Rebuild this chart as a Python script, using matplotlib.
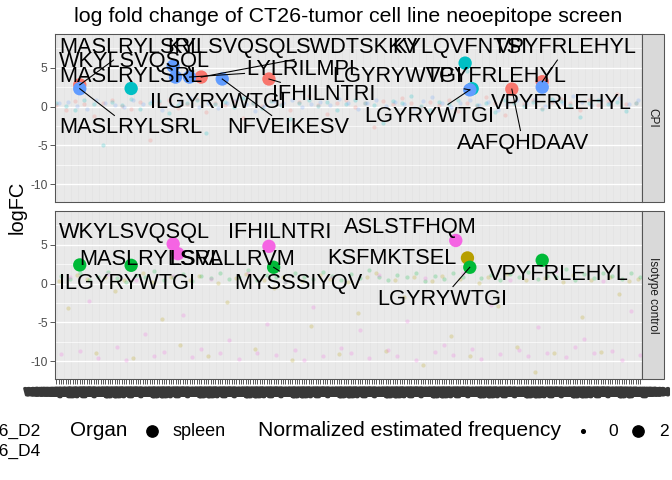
import numpy as np
import matplotlib
matplotlib.use("Agg")
import matplotlib.pyplot as plt
import matplotlib.patheffects as pe
from matplotlib.lines import Line2D
from matplotlib.patches import Rectangle

plt.rcParams['font.family'] = ['Liberation Sans', 'DejaVu Sans']

# ---- data -------------------------------------------------------------
N_PEPTIDES = 251
PEPTIDE_POOL = ["KSFMKTSEL", "WKYLSVQSQL", "KYLSVQSQL", "SWDTSKKVL", "KYLQVFNTSI",
                "VPYFRLEHYL", "ILGYRYWTGI", "NFVEIKESV", "LYLRILMPI", "IFHILNTRI",
                "LGYRYWTGI", "AAFQHDAAV", "LSVALLRVM", "MYSSSIYQV", "ASLSTFHQM",
                "MASLRYLSRL", "SPSYVYHQF", "GYISRVTAAL", "QGPQPSAGL", "TPVWSQLPL"]
x_tick_labels = [PEPTIDE_POOL[i % len(PEPTIDE_POOL)] for i in range(N_PEPTIDES)]

MOUSE_COLORS = {"CPI_1": "#F8766D", "ISO_1": "#B79F00", "ISO_2": "#00BA38",
                "CPI_2": "#00BFC4", "CPI_3": "#619CFF", "ISO_3": "#F564E3"}

# background logFC (every 4th peptide, one series per mouse)
bg_cpi = {
    "CPI_1": [0.2, -0.5, 0.7, 0.3, -1.2, 0.5, 0.9, 0.1, -0.3, 0.6, -4.3, 0.4, 0.8, -0.2, 0.3, 1.0,
              -0.7, 0.5, 0.2, 0.7, -1.5, 0.4, 0.1, 0.9, 0.3, -0.4, 0.6, 1.4, 0.2, -0.9, 0.5, 0.8,
              0.0, 0.4, -2.6, 0.7, 0.3, 1.1, 0.5, -0.1, 0.6, 0.2, 0.9, -0.6, 0.4, 0.1, 1.2, 0.5,
              -1.1, 0.7, 0.3, 0.8, -0.2, 0.6, 1.0, 0.4, -0.5, 0.9, 0.2, 0.7, 1.6, 0.3, 0.5],
    "CPI_2": [0.5, 0.1, -0.4, 0.8, 0.3, -5.0, 0.6, 0.2, 1.0, -0.3, 0.4, 0.7, -0.8, 0.2, 0.5, 0.9,
              -3.4, 0.3, 0.6, 0.0, 1.1, 0.4, -0.2, 0.7, 0.2, -1.6, 0.5, 0.8, 0.1, 0.6, -0.5, 0.3,
              0.9, 0.4, 0.2, -2.1, 0.7, 0.5, 1.3, 0.1, -0.4, 0.6, 0.3, 0.8, 4.6, 0.2, 0.5, -0.7,
              0.9, 0.4, 0.1, 0.6, -0.3, 1.0, 0.7, 0.2, -1.3, 0.5, 0.8, 0.3, 0.6, -0.6, 0.4],
    "CPI_3": [0.4, 0.6, 0.1, -0.3, 0.8, 0.5, 0.2, -0.1, 0.9, 0.3, 0.7, -0.4, 0.2, 0.6, 1.1, 0.0,
              0.4, -0.2, 0.5, 0.8, 0.3, -0.6, 0.1, 0.7, 0.4, 0.9, -0.1, 0.3, 0.6, 0.2, 1.0, 0.5,
              -0.3, 0.4, 0.8, 0.1, 0.6, 0.3, -0.2, 0.7, 1.2, 0.4, 0.0, 0.5, 0.9, 0.2, 0.6, -0.4,
              0.3, 0.8, 0.5, 1.0, 0.1, 0.7, 0.4, 1.3, 0.6, 0.2, 0.9, 0.5, 1.1, 0.3, 0.8],
}
bg_iso = {
    "ISO_1": [0.3, -3.2, 1.1, 0.6, -8.9, 0.9, -1.0, 0.4, -9.6, 1.3, 0.2, -4.6, 0.8, -7.9, 0.5, 1.0,
              -9.3, 0.1, -2.4, 0.7, 1.2, -8.4, 0.4, -0.6, 0.9, -9.8, 0.3, -5.5, 1.1, 0.6, -9.1, 0.2,
              -3.8, 0.8, 1.4, -8.7, 0.5, -1.7, 0.9, -10.5, 0.3, 1.0, -6.7, 0.6, -9.4, 0.1, 0.8, -2.9,
              1.2, -8.2, 0.4, -11.4, 0.7, -9.0, 0.2, 1.1, -4.3, 0.5, -8.8, 0.9, -1.4, 0.3, 0.6],
    "ISO_2": [1.0, 0.6, 1.3, 0.4, 0.9, 1.5, 0.7, 0.2, 1.1, 0.8, 1.6, 0.5, 0.9, 1.2, 0.3, 1.0,
              0.7, 1.4, 0.6, 0.9, 1.8, 0.4, 1.1, 0.8, 0.2, 1.3, 0.9, 0.6, 1.5, 1.0, 0.4, 1.2,
              0.7, 1.7, 0.9, 0.5, 1.1, 0.8, 1.4, 0.3, 1.0, 0.6, 1.3, 0.9, 1.6, 0.7, 1.1, 0.4,
              1.2, 0.8, 1.5, 0.6, 1.0, 0.9, 1.9, 0.5, 1.2, 0.7, 1.4, 1.0, 0.6, 1.3, 0.8],
    "ISO_3": [-9.1, 0.8, -8.7, -2.3, -9.6, 1.2, -8.2, -9.9, 0.4, -6.5, -9.3, -8.8, 1.0, -4.1, -9.5, -8.4,
              0.6, -9.0, -7.3, -9.7, 1.4, -8.9, -5.2, -9.2, 0.2, -8.6, -9.8, -3.0, -9.4, 0.9, -8.3, -9.0,
              -6.0, -9.6, 1.1, -8.5, -9.3, -4.8, -9.9, 0.7, -8.8, -7.9, -9.2, 1.3, -8.4, -9.7, -2.7, -9.1,
              0.5, -8.6, -9.4, -5.6, -8.9, 1.6, -9.5, -8.2, -7.1, -9.0, 0.3, -8.7, -9.8, -3.6, -9.2],
}
BG_STEP = 4

# highlighted (frequent) neoepitopes: peptide index, logFC, mouse
hi_cpi_idx = [10, 62, 91, 195, 208, 32, 175, 178, 10, 50, 51, 57, 71, 177, 208]
hi_cpi_fc = [2.8, 3.8, 3.55, 2.25, 3.2, 2.33, 5.6, 2.3, 2.3, 5.2, 3.8, 3.8, 3.55, 2.15, 2.5]
hi_cpi_mouse = ["CPI_1"] * 5 + ["CPI_2"] * 3 + ["CPI_3"] * 7

hi_iso_idx = [176, 10, 32, 93, 177, 208, 50, 52, 91, 171]
hi_iso_fc = [3.3, 2.4, 2.35, 2.1, 2.1, 3.0, 5.1, 3.85, 4.8, 5.55]
hi_iso_mouse = ["ISO_1"] + ["ISO_2"] * 5 + ["ISO_3"] * 4

# repelled labels: text, left position (peptide index), logFC, target point (-1 = no segment)
lab_cpi_text = ["MASLRYLSRL", "KYLSVQSQL", "SWDTSKKV", "KYLQVFNTSI", "VPYFRLEHYL",
                "WKYLSVQSQL", "MASLRYLSRL", "ILGYRYWTGI", "NFVEIKESV", "LYLRILMPI",
                "IFHILNTRI", "LGYRYWTGI", "VPYFRLEHYL", "LGYRYWTGI", "VPYFRLEHYL",
                "AAFQHDAAV", "MASLRYLSRL"]
lab_cpi_x = [1.1, 47.6, 102.7, 143.7, 188.1, 1.1, 1.1, 40.0, 73.3, 81.4,
             92.1, 118.1, 158.2, 131.8, 186.0, 171.5, 1.1]
lab_cpi_y = [7.6, 7.6, 7.6, 7.6, 7.6, 5.78, 3.84, 0.48, -2.76, 4.75,
             1.51, 3.84, 3.84, -1.33, 0.35, -4.7, -2.76]
lab_cpi_target = [0, -1, 1, -1, 4, -1, -1, -1, 12, 11, 2, 13, -1, 13, -1, 3, 8]

lab_iso_text = ["WKYLSVQSQL", "IFHILNTRI", "MASLRYLSRL", "LSVALLRVM", "ILGYRYWTGI",
                "MYSSSIYQV", "ASLSTFHQM", "KSFMKTSEL", "VPYFRLEHYL", "LGYRYWTGI"]
lab_iso_x = [1.1, 73.3, 9.6, 48.5, 1.1, 76.3, 123.2, 116.0, 184.7, 137.3]
lab_iso_y = [6.58, 6.58, 3.06, 3.06, 0.0, 0.0, 7.22, 3.19, 1.19, -2.0]
lab_iso_target = [-1, -1, -1, -1, -1, 3, -1, -1, -1, 4]

# ---- figure ------------------------------------------------------------
fig = plt.figure(figsize=(7, 5), dpi=96)
W, H = 672.0, 480.0
ax_top = fig.add_axes([55 / W, 1 - 202 / H, 586.7 / W, 168 / H])
ax_bot = fig.add_axes([55 / W, 1 - 379 / H, 586.7 / W, 168 / H])

panels = [
    (ax_top, bg_cpi, hi_cpi_idx, hi_cpi_fc, hi_cpi_mouse,
     lab_cpi_text, lab_cpi_x, lab_cpi_y, lab_cpi_target, "CPI"),
    (ax_bot, bg_iso, hi_iso_idx, hi_iso_fc, hi_iso_mouse,
     lab_iso_text, lab_iso_x, lab_iso_y, lab_iso_target, "Isotype control"),
]

text_objs = []
for ax, bg, hx, hy, hm, lt, lx, ly, ltg, strip in panels:
    ax.set_facecolor("#E4E4E4")
    ax.set_xlim(-0.6, N_PEPTIDES - 0.4)
    ax.set_ylim(-12.3, 9.35)
    ax.set_yticks([-10, -5, 0, 5])
    ax.set_yticklabels(["-10", "-5", "0", "5"])
    ax.set_yticks([-7.5, -2.5, 2.5, 7.5], minor=True)
    ax.set_xticks(np.arange(N_PEPTIDES))
    ax.grid(axis="x", which="major", color="white", lw=0.35, alpha=0.9)
    ax.grid(axis="y", which="major", color="white", lw=1.0)
    ax.grid(axis="y", which="minor", color="white", lw=0.5)
    ax.set_axisbelow(True)
    ax.tick_params(axis="y", which="major", length=3.5, width=0.6, color="#333333",
                   labelsize=9, labelcolor="#4D4D4D", pad=2)
    ax.tick_params(axis="y", which="minor", length=0)
    for s in ax.spines.values():
        s.set_color("#555555")
        s.set_linewidth(0.8)

    for mouse, vals in bg.items():
        off = list(MOUSE_COLORS).index(mouse) % 3
        xs = np.arange(len(vals)) * BG_STEP + off
        ax.scatter(xs, vals, s=10, color=MOUSE_COLORS[mouse], alpha=0.22,
                   linewidths=0, zorder=2)

    ax.scatter(hx, hy, s=100, c=[MOUSE_COLORS[m] for m in hm], linewidths=0, zorder=3)

    texts = []
    for t, x, y in zip(lt, lx, ly):
        texts.append(ax.text(x, y, t, fontsize=16.3, ha="left", va="center",
                             color="black", zorder=5, clip_on=False))
    text_objs.append((ax, texts, ltg, hx, hy))

    # facet strip
    pos = ax.get_position()
    fig.add_artist(Rectangle((pos.x1, pos.y0), 22 / W, pos.height, transform=fig.transFigure,
                             facecolor="#D9D9D9", edgecolor="#555555", lw=0.8))
    fig.text(pos.x1 + 11 / W, pos.y0 + pos.height / 2, strip, rotation=-90,
             ha="center", va="center", fontsize=8.8, color="#1A1A1A")

ax_top.tick_params(axis="x", which="major", length=0, labelbottom=False)
ax_bot.set_xticklabels(x_tick_labels, fontweight="bold")
ax_bot.tick_params(axis="x", which="major", length=3.5, width=0.6, color="#333333",
                   labelsize=7.2, labelcolor="#383838", pad=2.5)
for lbl in ax_bot.get_xticklabels():
    lbl.set_path_effects([pe.withStroke(linewidth=2.2, foreground="#383838")])

# repel-style segments from label box to its point
fig.canvas.draw()
rend = fig.canvas.get_renderer()
for ax, texts, targets, hx, hy in text_objs:
    inv = ax.transData.inverted()
    for t, tg in zip(texts, targets):
        if tg < 0:
            continue
        bb = t.get_window_extent(rend)
        px, py = ax.transData.transform((hx[tg], hy[tg]))
        cx, cy = (bb.x0 + bb.x1) / 2, (bb.y0 + bb.y1) / 2
        dx, dy = cx - px, cy - py
        hits = []
        for xe in (bb.x0 - 2, bb.x1 + 2):
            if dx != 0:
                tt = (xe - px) / dx
                if 0 <= tt <= 1 and bb.y0 - 2 <= py + tt * dy <= bb.y1 + 2:
                    hits.append(tt)
        for ye in (bb.y0 - 2, bb.y1 + 2):
            if dy != 0:
                tt = (ye - py) / dy
                if 0 <= tt <= 1 and bb.x0 - 2 <= px + tt * dx <= bb.x1 + 2:
                    hits.append(tt)
        tt = min(hits) if hits else 0
        ex, ey = inv.transform((px + tt * dx, py + tt * dy))
        ax.plot([hx[tg], ex], [hy[tg], ey], color="black", lw=0.8, zorder=4)

# titles
fig.text(348 / W, 1 - 16 / H, "log fold change of CT26-tumor cell line neoepitope screen",
         ha="center", va="center", fontsize=16)
fig.text(17 / W, 1 - 207 / H, "logFC", rotation=90, ha="center", va="center", fontsize=15)

# bottom legend (partly outside the canvas, as in the original)
fig.text(40 / W, 1 - 431 / H, "CT26_D2", ha="right", va="center", fontsize=13)
fig.text(40 / W, 1 - 451 / H, "CT26_D4", ha="right", va="center", fontsize=13)
fig.text(70 / W, 1 - 431 / H, "Organ", ha="left", va="center", fontsize=15.5)
fig.add_artist(Line2D([152 / W], [1 - 431 / H], marker="o", markersize=8.5, color="black",
                      transform=fig.transFigure))
fig.text(173 / W, 1 - 431 / H, "spleen", ha="left", va="center", fontsize=13.5)
fig.text(258 / W, 1 - 431 / H, "Normalized estimated frequency", ha="left", va="center",
         fontsize=15.8)
fig.add_artist(Line2D([583 / W], [1 - 431 / H], marker="o", markersize=2.8, color="black",
                      transform=fig.transFigure))
fig.text(608 / W, 1 - 431 / H, "0", ha="left", va="center", fontsize=13)
fig.add_artist(Line2D([638 / W], [1 - 431 / H], marker="o", markersize=8.5, color="black",
                      transform=fig.transFigure))
fig.text(659 / W, 1 - 431 / H, "2", ha="left", va="center", fontsize=13)

fig.savefig("out.png", dpi=96)
